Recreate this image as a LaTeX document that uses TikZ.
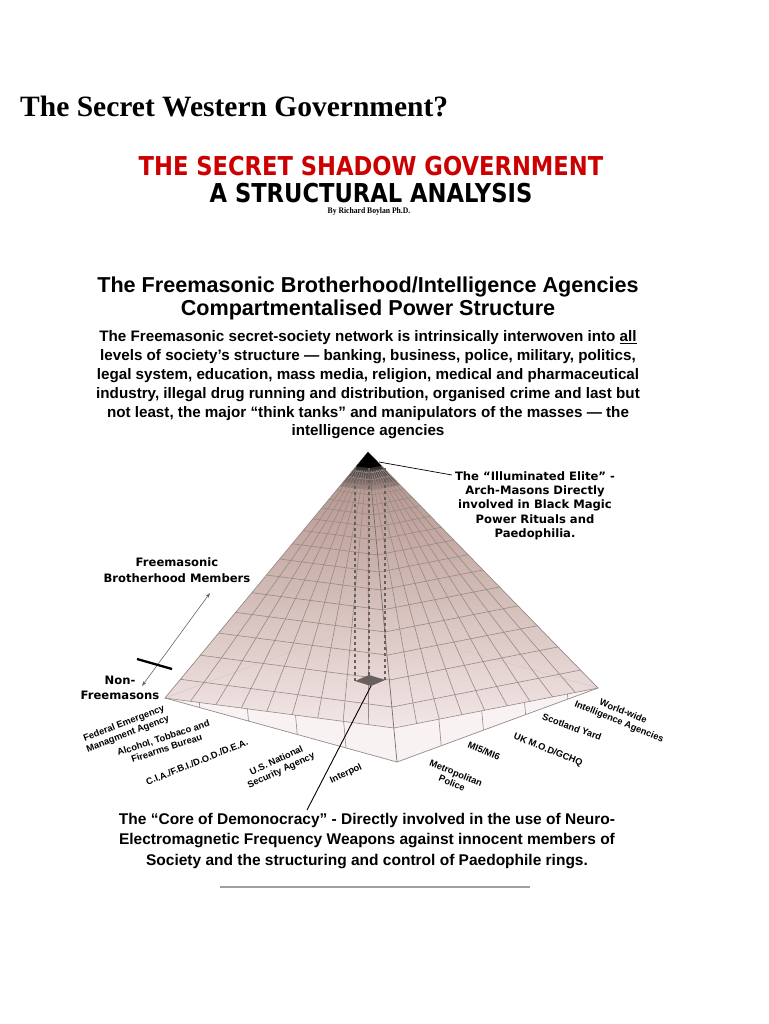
\documentclass[tikz,border=0pt]{standalone}
\usepackage{fontspec}
\setmainfont{Liberation Sans}
\newfontfamily\timesfont{Liberation Serif}
\newfontfamily\verdfont{DejaVu Sans}
\usetikzlibrary{arrows.meta,calc}
\definecolor{shadowred}{RGB}{204,0,0}
\definecolor{pyrtop}{RGB}{176,142,132}
\definecolor{pyrmid}{RGB}{222,199,193}
\definecolor{pyrlow}{RGB}{243,231,231}
\definecolor{pyrbase}{RGB}{248,242,242}
\definecolor{gridcol}{RGB}{150,138,136}
\definecolor{corecol}{RGB}{105,95,95}

\begin{document}
\begin{tikzpicture}[x=1pt, y=-1pt, >={Stealth[length=5pt,width=3.5pt]},
    gridline/.style={gridcol, line width=0.6pt},
    coreline/.style={corecol, line width=1.1pt, dash pattern=on 3.5pt off 2.5pt},
    lead/.style={black, line width=0.7pt},
    callout/.style={font=\verdfont\bfseries\fontsize{11.6}{14.3}\selectfont, align=center, inner sep=0pt},
    baselabel/.style={font=\bfseries\fontsize{9.3}{10.8}\selectfont, align=center, inner sep=0pt}]
    \fill[white] (0,0) rectangle (768,1024);
    \useasboundingbox (0,0) rectangle (768,1024);
    % --- page headings ---
    \node[anchor=base west, inner sep=0pt, font=\timesfont\bfseries\fontsize{29.5}{32}\selectfont]
      (title) at (20,117) {The Secret Western Government?};
    \node[anchor=base, inner sep=0pt, shadowred, font=\verdfont\bfseries\fontsize{26}{28}\selectfont]
      (redtitle) at (371,176) {\scalebox{0.87}[1]{THE SECRET SHADOW GOVERNMENT}};
    \node[anchor=base, inner sep=0pt, font=\verdfont\bfseries\fontsize{26}{28}\selectfont]
      (subtitle) at (371,203) {\scalebox{0.87}[1]{A STRUCTURAL ANALYSIS}};
    \node[anchor=base, inner sep=0pt, font=\timesfont\bfseries\fontsize{8.5}{9}\selectfont]
      (byline) at (369,214) {\scalebox{0.9}[1]{By Richard Boylan Ph.D.}};
    % --- diagram headings ---
    \node[align=center, inner sep=0pt, font=\bfseries\fontsize{21.6}{23}\selectfont]
      (heading) at (368,298.5) {The Freemasonic Brotherhood/Intelligence Agencies\\
      Compartmentalised Power Structure};
    \node[align=center, inner sep=0pt, font=\bfseries\fontsize{15.2}{18.8}\selectfont]
      (intro) at (368,385) {The Freemasonic secret-society network is intrinsically interwoven into \underline{all}\\
      levels of society's structure — banking, business, police, military, politics,\\
      legal system, education, mass media, religion, medical and pharmaceutical\\
      industry, illegal drug running and distribution, organised crime and last but\\
      not least, the major “think tanks” and manipulators of the masses — the\\
      intelligence agencies};

    % --- pyramid corners (bck is hidden) ---
    \coordinate (apex) at (368,452);
    \coordinate (lft) at (165,698);
    \coordinate (frt) at (397,762);
    \coordinate (rgt) at (598,688);
    \coordinate (mid) at (394,728);
    \coordinate (bck) at ($(lft)+(rgt)-(frt)$);
    % --- faces ---
    \fill[pyrbase] (lft) -- (mid) -- (rgt) -- (frt) -- cycle;
    \shade[top color=pyrtop, middle color=pyrmid, bottom color=pyrlow]
      (apex) -- (lft) -- (mid) -- (rgt) -- cycle;
    \shade[top color=black!85, bottom color=pyrtop]
      ($(apex)!0.055!(lft)$) -- ($(apex)!0.055!(mid)$) -- ($(apex)!0.055!(rgt)$)
      -- ($(apex)!0.14!(rgt)$) -- ($(apex)!0.14!(mid)$) -- ($(apex)!0.14!(lft)$) -- cycle;
    % back edges showing through
    \draw[white!55!gridcol, line width=0.5pt] (lft) -- (bck) -- (rgt);
    % --- levels ---
    \foreach \t in {0.076,0.101,0.127,0.156,0.192,0.228,0.272,0.319,0.373,0.435,0.5,0.572,0.652,0.736,0.826,0.924}
      \draw[gridline] ($(apex)!\t!(lft)$) -- ($(apex)!\t!(mid)$) -- ($(apex)!\t!(rgt)$);
    \draw[gridline] (lft) -- (mid) -- (rgt);
    % --- columns ---
    \foreach \s in {1,...,8} {
      \path ($(lft)!\s/9!(mid)$) coordinate (colL) ($(mid)!\s/9!(rgt)$) coordinate (colR);
      \draw[gridline] ($(apex)!0.07!(colL)$) -- (colL);
      \draw[gridline] ($(apex)!0.07!(colR)$) -- (colR);
    }
    \foreach \s in {0.15,0.36,0.57,0.78}
      \draw[gridline] ($(lft)!\s!(mid)$) -- ($(lft)!\s!(frt)$);
    \foreach \s in {0.22,0.43,0.64,0.85}
      \draw[gridline] ($(mid)!\s!(rgt)$) -- ($(frt)!\s!(rgt)$);
    % --- edges ---
    \draw[gridcol, line width=0.7pt] (lft) -- (apex) -- (rgt) -- (frt) -- cycle;
    \draw[gridcol!80!black, line width=0.7pt] (apex) -- (frt);
    % --- black cap ---
    \fill[black] (apex) -- ($(apex)!0.058!(lft)$) -- ($(apex)!0.058!(mid)$) -- ($(apex)!0.058!(rgt)$) -- cycle;
    % --- hidden core column ---
    \coordinate (corel) at (355,681);
    \coordinate (coref) at (371,686);
    \coordinate (corer) at (385,680);
    \coordinate (coreb) at (369,675);
    \foreach \c in {corel,coreb,corer}
      \draw[coreline] (\c) -- (\c |- 0,468);
    \fill[corecol] (corel) -- (coref) -- (corer) -- (coreb) -- cycle;

    % --- callouts ---
    \node[callout] (elite) at (535,505.5) {The “Illuminated Elite” -\\
      Arch-Masons Directly\\ involved in Black Magic\\ Power Rituals and\\ Paedophilia.};
    \coordinate (captip) at (379,462);
    \coordinate (elitein) at (452,475);
    \draw[lead] (captip) -- (elitein);

    \node[callout, font=\verdfont\bfseries\fontsize{11.6}{16}\selectfont] (members) at (177,570)
      {Freemasonic\\ Brotherhood Members};
    \node[callout, font=\verdfont\bfseries\fontsize{11.6}{15}\selectfont] (nonmason) at (120,688)
      {Non-\\ Freemasons};
    \coordinate (nonpt) at (142,686);
    \coordinate (mempt) at (210,593);
    \draw[<->, gray!80!black, line width=0.6pt] (nonpt) -- (mempt);
    \coordinate (barL) at (137,659);
    \coordinate (barR) at (172,669);
    \draw[black, line width=2.3pt] (barL) -- (barR);

    % --- agencies round the base ---
    \node[baselabel, rotate=21] (fema) at (126,729) {Federal Emergency\\ Managment Agency};
    \node[baselabel, rotate=18] (atf) at (165,743) {Alcohol, Tobbaco and\\ Firearms Bureau};
    \node[baselabel, rotate=22] (cia) at (197,762) {C.I.A./F.B.I./D.O.D./D.E.A.};
    \node[baselabel, rotate=25] (nsa) at (279,766) {U.S. National\\ Security Agency};
    \node[baselabel, rotate=25] (interpol) at (346,774) {Interpol};
    \node[baselabel, rotate=-22] (metpol) at (454,778) {Metropolitan\\ Police};
    \node[baselabel, rotate=-22] (mi) at (484,751) {MI5/MI6};
    \node[baselabel, rotate=-22] (mod) at (548,750) {UK M.O.D/GCHQ};
    \node[baselabel, rotate=-20] (yard) at (572,727) {Scotland Yard};
    \node[baselabel, rotate=-22] (world) at (621,717) {World-wide\\ Intelligence Agencies};

    % --- core of the pyramid ---
    \node[align=center, inner sep=0pt, font=\bfseries\fontsize{15.5}{20.5}\selectfont]
      (coretxt) at (367,841) {The “Core of Demonocracy” - Directly involved in the use of Neuro-\\
      Electromagnetic Frequency Weapons against innocent members of\\
      Society and the structuring and control of Paedophile rings.};
    \coordinate (coreend) at (307,810);
    \draw[lead, line width=0.9pt] (coref) -- (coreend);

    \coordinate (ruleL) at (220,887);
    \coordinate (ruleR) at (530,887);
    \draw[gray!75, line width=1.6pt] (ruleL) -- (ruleR);
\end{tikzpicture}
\end{document}
